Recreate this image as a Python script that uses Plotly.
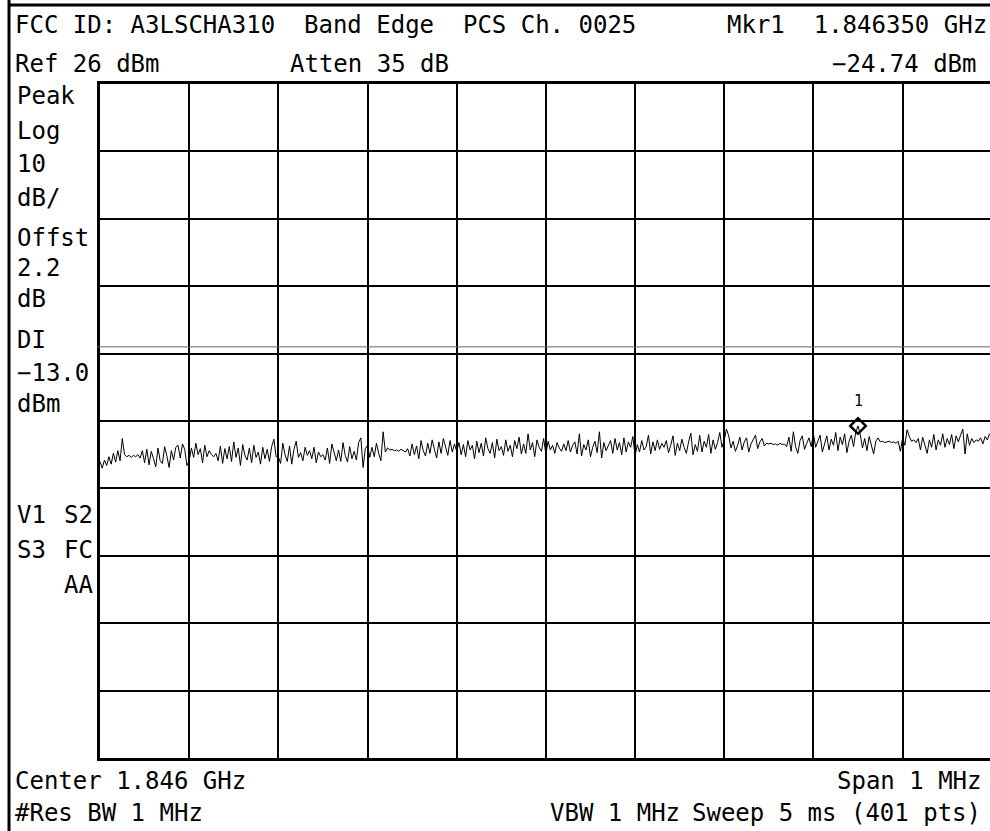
import plotly.graph_objects as go
import numpy as np

# instrument settings (from the screen annotations)
center_ghz = 1.846
span_ghz = 0.001
n_pts = 401
ref_dbm = 26
db_per_div = 10
display_line_dbm = -13.0
marker_ghz = 1.846350
marker_dbm = -24.74

# trace, dBm, one row of 10 points per line
trace_dbm = [
    -30.0, -31.0, -29.8, -30.6, -29.3, -30.4, -28.8, -30.1, -28.4, -29.9,
    -26.6, -29.0, -29.3, -29.1, -29.4, -29.1, -29.3, -29.0, -29.5, -28.4,
    -30.2, -28.2, -30.5, -28.5, -29.6, -30.8, -28.0, -29.9, -30.3, -27.8,
    -29.2, -30.9, -28.4, -29.8, -27.9, -27.6, -29.5, -27.4, -28.2, -30.6,
    -29.9, -28.0, -29.4, -27.3, -29.0, -28.1, -30.2, -27.6, -29.3, -28.4,
    -29.0, -29.3, -28.8, -29.9, -27.7, -30.3, -28.1, -29.6, -27.8, -30.0,
    -27.1, -29.4, -28.0, -30.6, -27.5, -29.1, -29.8, -28.0, -30.2, -27.6,
    -29.4, -28.6, -30.4, -27.9, -29.6, -28.2, -30.0, -27.8, -26.7, -29.3,
    -29.3, -30.3, -27.3, -29.0, -30.0, -27.7, -30.4, -28.2, -27.0, -29.4,
    -28.7, -29.9, -27.9, -29.1, -28.4, -29.6, -27.9, -30.2, -28.6, -29.3,
    -29.0, -29.8, -28.0, -30.3, -27.4, -28.9, -29.9, -28.3, -30.0, -27.2,
    -29.1, -30.1, -27.8, -29.6, -28.5, -29.8, -27.2, -26.5, -30.9, -28.1,
    -27.6, -29.4, -27.9, -29.3, -27.3, -28.8, -29.9, -25.6, -28.6, -28.0,
    -28.3, -28.2, -28.4, -28.3, -28.5, -28.2, -28.4, -28.6, -28.1, -29.2,
    -27.4, -29.0, -27.7, -29.6, -26.9, -28.4, -29.2, -27.3, -28.8, -26.8,
    -28.2, -29.5, -27.1, -28.8, -26.6, -28.0, -29.1, -26.9, -28.6, -27.4,
    -28.5, -27.2, -29.0, -27.5, -29.3, -26.9, -28.3, -27.6, -29.6, -27.0,
    -28.7, -27.3, -29.2, -26.5, -28.1, -28.8, -27.2, -29.5, -26.7, -28.4,
    -27.8, -29.1, -26.8, -28.5, -27.6, -29.3, -26.9, -28.1, -26.4, -28.9,
    -27.4, -28.8, -25.9, -28.3, -27.2, -29.3, -26.8, -27.9, -28.5, -26.6,
    -28.9, -27.0, -28.3, -27.6, -28.8, -27.2, -28.0, -28.5, -27.4, -28.4,
    -26.9, -28.6, -27.6, -27.1, -28.9, -25.9, -29.2, -27.5, -28.3, -26.8,
    -29.3, -27.9, -27.0, -28.7, -25.6, -29.5, -27.2, -28.4, -27.7, -26.9,
    -28.8, -26.6, -28.3, -27.2, -29.0, -26.5, -28.6, -27.1, -27.9, -26.3,
    -29.2, -27.5, -28.6, -26.9, -28.3, -27.8, -26.1, -28.9, -27.1, -28.4,
    -26.8, -28.2, -27.3, -27.9, -26.9, -28.7, -27.6, -26.2, -29.1, -27.3,
    -28.4, -26.7, -27.9, -28.8, -27.1, -25.8, -29.0, -27.5, -28.5, -26.1,
    -28.6, -27.0, -27.9, -26.0, -28.8, -26.8, -28.2, -27.2, -25.7, -27.9,
    -26.8, -25.2, -26.2, -28.0, -27.0, -28.5, -27.6, -26.4, -28.3, -27.1,
    -26.5, -28.6, -27.4, -26.8, -26.1, -28.1, -27.1, -26.6, -27.7, -27.3,
    -27.4, -27.3, -27.5, -27.4, -27.6, -27.3, -27.5, -27.4, -27.8, -26.4,
    -28.5, -25.6, -27.8, -28.8, -26.9, -26.2, -28.2, -27.3, -26.5, -27.8,
    -25.9, -27.9, -26.9, -26.1, -28.6, -27.2, -26.2, -28.3, -26.7, -27.6,
    -25.7, -28.4, -26.4, -27.5, -25.9, -28.7, -27.0, -26.1, -27.8, -25.6,
    -24.74, -26.0, -28.0, -26.6, -28.4, -26.3, -27.5, -28.9, -27.0, -26.5,
    -27.1, -27.0, -27.2, -27.1, -27.0, -27.2, -27.1, -27.3, -27.0, -28.5,
    -26.5, -27.6, -25.3, -26.3, -27.0, -26.8, -27.2, -26.6, -28.3, -26.4,
    -27.7, -28.8, -26.8, -27.9, -26.0, -28.3, -26.8, -27.6, -25.9, -27.9,
    -26.6, -27.5, -26.0, -28.1, -26.2, -27.1, -26.1, -25.2, -28.9, -25.9,
    -27.6, -26.6, -27.2, -26.8, -27.0, -26.5, -27.4, -26.3, -26.8, -25.9,
    -26.2,
]

header_left = ["FCC ID: A3LSCHA310\u00a0\u00a0Band Edge\u00a0\u00a0PCS Ch. 0025", "Ref 26 dBm"]
side_labels = ["Peak", "Log", "10", "dB/", "Offst", "2.2", "dB", "DI", "\u221213.0", "dBm"]
side_label_y = [96, 131, 164, 198, 238, 268, 299, 340, 373, 404]

W, H = 990, 831
L, R, T, B = 100, 0, 84, 73
pw, ph = W - L - R, H - T - B


def px_x(x):
    return (x - L) / pw


def px_y(y):
    return 1 - (y - T) / ph


f_start = center_ghz - span_ghz / 2
freqs = f_start + span_ghz * np.arange(n_pts) / (n_pts - 1)

fig = go.Figure()
fig.add_trace(go.Scatter(x=freqs, y=trace_dbm, mode="lines",
                         line=dict(color="black", width=1), hoverinfo="skip"))
fig.add_trace(go.Scatter(x=[marker_ghz], y=[marker_dbm], mode="markers",
                         marker=dict(symbol="diamond-open", size=12, color="black",
                                     line=dict(width=2.5, color="black"))))

font = dict(family="DejaVu Sans Mono", size=24, color="black")
ann = []


def txt(s, x, y, anchor="left"):
    ann.append(dict(text=s, x=px_x(x), y=px_y(y), xref="paper", yref="paper",
                    xanchor=anchor, yanchor="middle", showarrow=False, font=font))


txt(header_left[0], 13, 25)
txt("Mkr1\u00a0\u00a01.846350 GHz", 989, 25, "right")
txt(header_left[1], 13, 64)
txt("Atten 35 dB", 288, 64)
txt("\u221224.74 dBm", 979, 64, "right")
for s, y in zip(side_labels, side_label_y):
    txt(s, 15, y)
txt("V1", 15, 515)
txt("S2", 95, 515, "right")
txt("S3", 15, 550)
txt("FC", 95, 550, "right")
txt("AA", 95, 585, "right")
txt("Center 1.846 GHz", 13, 781)
txt("Span 1 MHz", 984, 781, "right")
txt("#Res BW 1 MHz", 13, 813)
txt("VBW 1 MHz", 548, 813)
txt("Sweep 5 ms (401 pts)", 983, 813, "right")

ann.append(dict(text="1", x=marker_ghz, y=marker_dbm, xref="x", yref="y",
                yanchor="bottom", yshift=14, showarrow=False,
                font=dict(family="DejaVu Sans Mono", size=15, color="black")))

shapes = [
    dict(type="line", xref="paper", yref="paper", x0=px_x(9), x1=px_x(9),
         y0=px_y(0), y1=px_y(H), line=dict(color="black", width=3)),
    dict(type="line", xref="paper", yref="paper", x0=px_x(9), x1=px_x(W),
         y0=px_y(5), y1=px_y(5), line=dict(color="black", width=3)),
    dict(type="line", xref="paper", yref="y", x0=-0.003, x1=1,
         y0=display_line_dbm, y1=display_line_dbm, line=dict(color="#666666", width=1)),
]

fig.update_layout(
    width=W, height=H,
    margin=dict(l=L, r=R, t=T, b=B),
    paper_bgcolor="white", plot_bgcolor="white",
    showlegend=False,
    annotations=ann,
    shapes=shapes,
    xaxis=dict(range=[f_start, f_start + span_ghz * 0.998], tick0=f_start, dtick=span_ghz / 10,
               showgrid=True, gridcolor="black", gridwidth=2, zeroline=False,
               showticklabels=False, ticks="", showline=True, mirror=True,
               linecolor="black", linewidth=3),
    yaxis=dict(range=[ref_dbm - 10 * db_per_div, ref_dbm], tick0=ref_dbm, dtick=db_per_div,
               showgrid=True, gridcolor="black", gridwidth=2, zeroline=False,
               showticklabels=False, ticks="", showline=True, mirror=False,
               linecolor="black", linewidth=3),
)

# page body has an 8px margin by default; drop it so the figure sits at 0,0
fig.write_html("out.html", config={"displayModeBar": False},
               post_script="document.body.style.margin='0';")
